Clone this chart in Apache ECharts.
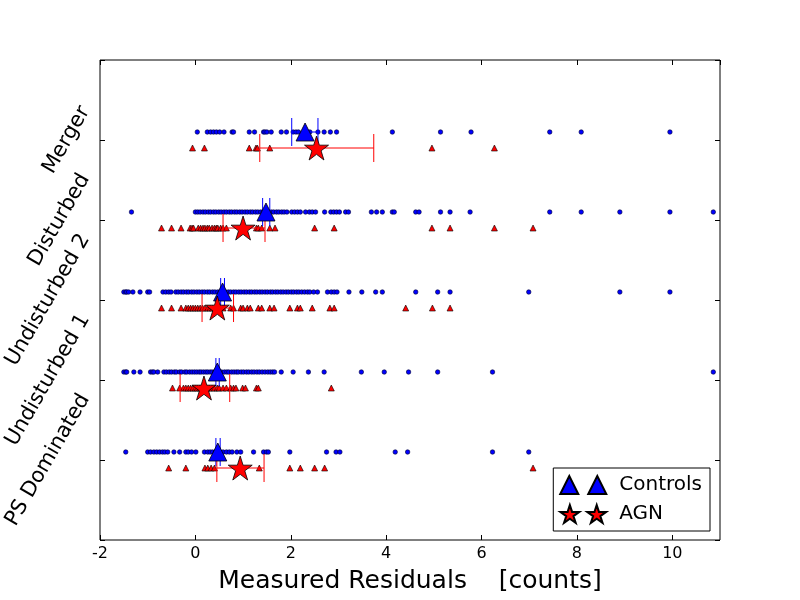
<!DOCTYPE html>
<html>
<head>
<meta charset="utf-8">
<script src="https://cdn.jsdelivr.net/npm/echarts@6/dist/echarts.min.js"></script>
<style>
html, body { margin: 0; padding: 0; background: #fff; }
#chart { width: 800px; height: 600px; }
</style>
</head>
<body>
<div id="chart"></div>
<script>
// categories, bottom to top (y = 1..5)
var categories = ['PS Dominated', 'Undisturbed 1', 'Undisturbed 2', 'Disturbed', 'Merger'];

// individual residuals, controls
var ctrlPS = [-1.46, -1.00, -0.94, -0.87, -0.81, -0.75, -0.69, -0.64, -0.58, -0.45, -0.33, -0.20, -0.15, -0.08, 0.01,
  0.19, 0.26, 0.31, 0.36, 0.42, 0.51, 0.58, 0.65, 0.71, 0.77, 0.87, 0.95, 1.22, 1.43, 1.49, 1.53, 1.98, 2.75, 2.95,
  3.03, 4.19, 4.45, 6.23, 6.99];
var ctrlU1 = [-1.50, -1.46, -1.44, -1.29, -1.16, -0.94, -0.90, -0.87, -0.79,
  -0.66, -0.61, -0.55, -0.50, -0.44, -0.40, -0.33, -0.29, -0.22, -0.18, -0.12, -0.07, -0.02, 0.03, 0.08, 0.12, 0.17,
  0.22, 0.26, 0.31, 0.35, 0.40, 0.44, 0.50, 0.55, 0.61, 0.66, 0.70, 0.76, 0.81, 0.86, 0.90, 0.96, 1.01, 1.07, 1.12,
  1.18, 1.23, 1.29, 1.34, 1.40, 1.46, 1.52, 1.57, 1.62, 1.66, 1.80, 2.05, 2.37, 2.70, 3.48, 3.96, 4.47, 5.08, 6.23, 10.86];
var ctrlU2 = [-1.50, -1.46, -1.44, -1.40, -1.31, -1.16, -1.00, -0.96, -0.68, -0.62, -0.56, -0.51,
  -0.41, -0.36, -0.30, -0.25, -0.19, -0.14, -0.08, -0.03, 0.03, 0.08, 0.14, 0.19, 0.25, 0.30, 0.36, 0.41, 0.47, 0.52,
  0.58, 0.63, 0.69, 0.74, 0.80, 0.85, 0.91, 0.96, 1.02, 1.07, 1.13, 1.18, 1.24, 1.29, 1.35, 1.40, 1.46, 1.51, 1.57,
  1.62, 1.68, 1.73, 1.79, 1.84, 1.90, 1.95, 2.01, 2.06, 2.12, 2.17, 2.23, 2.29, 2.35, 2.40, 2.48, 2.56, 2.77, 2.85,
  2.91, 2.97, 3.22, 3.49, 3.78, 3.92, 4.62, 5.08, 5.34, 6.99, 8.90, 9.95];
var ctrlDist = [-1.34,
  0.00, 0.05, 0.10, 0.16, 0.21, 0.27, 0.32, 0.38, 0.43, 0.49, 0.54, 0.60, 0.65, 0.71, 0.76, 0.82, 0.87, 0.93, 0.98,
  1.04, 1.09, 1.15, 1.20, 1.26, 1.31, 1.37, 1.42, 1.48, 1.53, 1.59, 1.64, 1.70, 1.75, 1.81, 1.86, 1.92, 2.02, 2.08,
  2.14, 2.20, 2.31, 2.39, 2.45, 2.52, 2.71, 2.84, 2.90, 2.96, 3.02, 3.15, 3.21, 3.69, 3.80, 3.92, 4.13, 4.17, 4.62,
  4.69, 5.14, 5.34, 5.76, 7.43, 8.09, 8.90, 9.95, 10.86];
var ctrlMerger = [0.04, 0.25, 0.32, 0.38, 0.44, 0.51, 0.60, 0.77, 0.80, 1.13, 1.24, 1.43, 1.46, 1.50, 1.59, 1.80, 1.91,
  2.05, 2.11, 2.16, 2.30, 2.40, 2.57, 2.70, 2.83, 2.96, 4.13, 5.14, 5.78, 7.43, 8.09, 9.95];

// individual residuals, AGN
var agnPS = [-0.56, -0.20, 0.20, 0.26, 0.33, 0.40, 1.34, 1.98, 2.20, 2.50, 2.71, 7.08];
var agnU1 = [-0.48, -0.33, -0.25, -0.20, -0.15, -0.10, -0.05, 0.00, 0.04, 0.09, 0.13, 0.19, 0.24, 0.29, 0.35, 0.40,
  0.46, 0.50, 0.58, 0.65, 0.74, 0.80, 0.85, 0.99, 1.05, 1.28, 1.32, 2.85];
var agnU2 = [-0.71, -0.50, -0.30, -0.20, -0.15, -0.10, -0.05, 0.00, 0.05, 0.10, 0.15, 0.20, 0.26, 0.31, 0.36, 0.42,
  0.50, 0.58, 0.74, 0.80, 0.95, 1.00, 1.09, 1.15, 1.32, 1.39, 1.56, 1.65, 1.98, 2.14, 2.20, 2.45, 2.82, 2.91, 4.41,
  4.97, 5.34];
var agnDist = [-0.71, -0.50, -0.30, -0.11, -0.07, -0.04, 0.06, 0.11, 0.16, 0.20, 0.25, 0.29, 0.35, 0.40, 0.44, 0.47,
  0.53, 0.58, 0.65, 1.28, 1.32, 1.39, 1.56, 1.67, 2.50, 2.91, 4.96, 5.34, 6.27, 7.08];
var agnMerger = [-0.06, 0.19, 1.13, 1.27, 1.30, 1.56, 4.96, 6.27];

// group means with error ranges
var ctrlMean = [0.47, 0.46, 0.57, 1.48, 2.30];
var ctrlLo = [0.43, 0.43, 0.53, 1.41, 2.02];
var ctrlHi = [0.52, 0.50, 0.61, 1.56, 2.57];
var agnMean = [0.94, 0.18, 0.46, 1.00, 2.54];
var agnLo = [0.45, -0.32, 0.14, 0.58, 1.35];
var agnHi = [1.44, 0.72, 0.80, 1.46, 3.74];

var xMin = -2, xMax = 11, xStep = 2;
var yMin = 0, yMax = 6;

var ctrlPoints = [ctrlPS, ctrlU1, ctrlU2, ctrlDist, ctrlMerger];
var agnPoints = [agnPS, agnU1, agnU2, agnDist, agnMerger];

var FONT = '"DejaVu Sans", sans-serif';
var ROW_SHIFT = 0.1;  // controls sit above the tick, AGN below
var LABEL_SIZE = 21;

function flatten(groups, shift) {
  var out = [];
  groups.forEach(function (vals, i) {
    vals.forEach(function (v) { out.push([v, i + 1 + shift]); });
  });
  return out;
}

function errRows(lo, hi, shift) {
  return lo.map(function (l, i) { return [l, hi[i], i + 1 + shift]; });
}

function meanRows(mean, shift) {
  return mean.map(function (m, i) { return [m, i + 1 + shift]; });
}

function starPath(dx) {
  var pts = [];
  for (var k = 0; k < 10; k++) {
    var a = -Math.PI / 2 + k * Math.PI / 5;
    var r = k % 2 === 0 ? 10 : 3.82;
    pts.push((10 + dx + r * Math.cos(a)).toFixed(2) + ',' + (10 + r * Math.sin(a)).toFixed(2));
  }
  return 'M' + pts.join('L') + 'Z';
}

var starIcon = 'path://' + starPath(0);
var twoStars = 'path://' + starPath(0) + ' ' + starPath(27);
var twoTriangles = 'path://M0,18L9,0L18,18Z M28,18L37,0L46,18Z';

var measureCtx = document.createElement('canvas').getContext('2d');
measureCtx.font = LABEL_SIZE + 'px ' + FONT;

function errorBar(color) {
  return function (params, api) {
    var y = api.value(2);
    var a = api.coord([api.value(0), y]);
    var b = api.coord([api.value(1), y]);
    var cap = 14;
    var st = { stroke: color, lineWidth: 1 };
    return {
      type: 'group',
      children: [
        { type: 'line', shape: { x1: a[0], y1: a[1], x2: b[0], y2: b[1] }, style: st },
        { type: 'line', shape: { x1: a[0], y1: a[1] - cap, x2: a[0], y2: a[1] + cap }, style: st },
        { type: 'line', shape: { x1: b[0], y1: b[1] - cap, x2: b[0], y2: b[1] + cap }, style: st }
      ]
    };
  };
}

var chart = echarts.init(document.getElementById('chart'), null, { renderer: 'canvas' });

var axisCommon = {
  type: 'value',
  axisLine: { show: false, onZero: false },
  splitLine: { show: false },
  axisTick: { show: true, inside: true, length: 5, lineStyle: { color: '#000', width: 1 } }
};

chart.setOption({
  animation: false,
  backgroundColor: '#fff',
  grid: { left: 100, right: 80, top: 60, bottom: 60, show: true, borderColor: '#000', borderWidth: 1 },
  xAxis: [
    Object.assign({}, axisCommon, {
      min: xMin, max: xMax, interval: xStep, position: 'bottom',
      axisLabel: { color: '#000', fontSize: 16, fontFamily: FONT, margin: 6, showMaxLabel: false },
      name: 'Measured Residuals    [counts]',
      nameLocation: 'middle', nameGap: 29,
      nameTextStyle: { color: '#000', fontSize: 25, fontFamily: FONT }
    }),
    Object.assign({}, axisCommon, {
      min: xMin, max: xMax, interval: xStep, position: 'top',
      axisLabel: { show: false }
    })
  ],
  yAxis: [
    Object.assign({}, axisCommon, {
      min: yMin, max: yMax, interval: 1, position: 'left',
      axisLabel: { show: false }
    }),
    Object.assign({}, axisCommon, {
      min: yMin, max: yMax, interval: 1, position: 'right',
      axisLabel: { show: false }
    })
  ],
  legend: {
    data: [{ name: 'Controls', icon: twoTriangles }, { name: 'AGN', icon: twoStars }],
    orient: 'vertical',
    right: 90, bottom: 69,
    itemWidth: 46, itemHeight: 18, itemGap: 9,
    padding: [7, 8, 7, 6],
    borderColor: '#000', borderWidth: 1, borderRadius: 0,
    backgroundColor: '#fff',
    textStyle: { color: '#000', fontSize: 20, fontFamily: FONT, padding: [0, 0, 0, 8] }
  },
  series: [
    {
      name: 'ctrl-pts', type: 'scatter', symbol: 'circle', symbolSize: 4.5,
      itemStyle: { color: '#0000ff', borderColor: '#000033', borderWidth: 0.6, opacity: 1 },
      data: flatten(ctrlPoints, ROW_SHIFT), z: 2
    },
    {
      name: 'agn-pts', type: 'scatter', symbol: 'triangle', symbolSize: 6,
      itemStyle: { color: '#ff0000', borderColor: '#000', borderWidth: 0.6, opacity: 1 },
      data: flatten(agnPoints, -ROW_SHIFT), z: 2
    },
    {
      name: 'ctrl-err', type: 'custom', renderItem: errorBar('#0000ff'),
      encode: { x: [0, 1], y: 2 }, data: errRows(ctrlLo, ctrlHi, ROW_SHIFT), z: 3
    },
    {
      name: 'agn-err', type: 'custom', renderItem: errorBar('#ff0000'),
      encode: { x: [0, 1], y: 2 }, data: errRows(agnLo, agnHi, -ROW_SHIFT), z: 3
    },
    {
      name: 'Controls', type: 'scatter', symbol: 'triangle', symbolSize: 18,
      itemStyle: { color: '#0000ff', borderColor: '#000', borderWidth: 0.8, opacity: 1 },
      data: meanRows(ctrlMean, ROW_SHIFT), z: 4
    },
    {
      name: 'AGN', type: 'scatter', symbol: starIcon, symbolSize: 24,
      itemStyle: { color: '#ff0000', borderColor: '#000', borderWidth: 0.8, opacity: 1 },
      data: meanRows(agnMean, -ROW_SHIFT), z: 4
    },
    {
      name: 'cat-labels', type: 'custom', clip: false, silent: true,
      data: categories.map(function (c, i) { return [xMin, i + 1]; }),
      encode: { x: 0, y: 1 },
      renderItem: function (params, api) {
        var p = api.coord([api.value(0), api.value(1)]);
        var name = categories[params.dataIndex];
        var w = measureCtx.measureText(name).width;
        var h = LABEL_SIZE * 1.1;
        var half = (w * 0.5 + h * 0.866) / 2;
        return {
          type: 'text',
          x: p[0] - 5 - half, y: p[1],
          rotation: Math.PI / 3,
          style: {
            text: name, fill: '#000',
            font: LABEL_SIZE + 'px ' + FONT,
            align: 'center', verticalAlign: 'middle'
          }
        };
      }
    }
  ]
});
</script>
</body>
</html>
